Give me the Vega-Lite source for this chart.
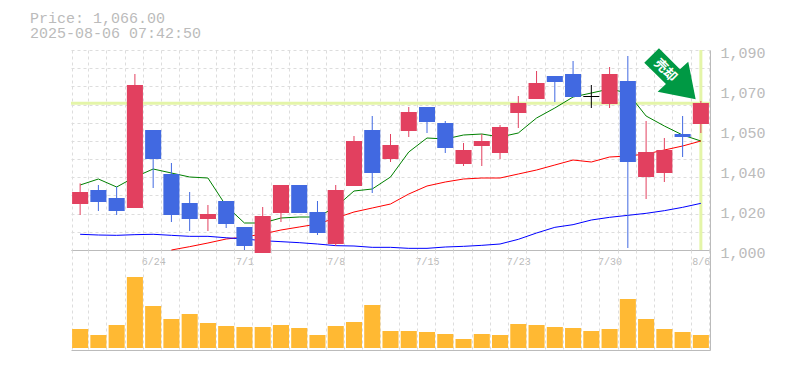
{"$schema":"https://vega.github.io/schema/vega-lite/v6.json","background":"white","padding":{"left":30,"top":11,"right":0,"bottom":10},"spacing":0,"bounds":"flush","datasets":{"candles":[
{"date":"6/18","open":1020.7,"close":1026.1,"high":1030,"low":1015.75,"dir":"up","ma5":1029.25,"ma25":null,"ma75":1007.07,"volume":19},
{"date":"6/19","open":1027,"close":1021.6,"high":1029.25,"low":1017.55,"dir":"down","ma5":1031.95,"ma25":null,"ma75":1006.75,"volume":13},
{"date":"6/20","open":1023.4,"close":1017.55,"high":1028.5,"low":1015.75,"dir":"down","ma5":1028.35,"ma25":null,"ma75":1006.6,"volume":23},
{"date":"6/23","open":1018.9,"close":1074.25,"high":1079.2,"low":1018.9,"dir":"up","ma5":1032.85,"ma25":null,"ma75":1006.9,"volume":71},
{"date":"6/24","open":1054,"close":1040.95,"high":1054,"low":1027.9,"dir":"down","ma5":1036.45,"ma25":null,"ma75":1007.07,"volume":42},
{"date":"6/25","open":1034.2,"close":1015.75,"high":1039.15,"low":1012.6,"dir":"down","ma5":1034.65,"ma25":1000,"ma75":1006.6,"volume":29},
{"date":"6/26","open":1021.15,"close":1013.95,"high":1026.1,"low":1008.55,"dir":"down","ma5":1032.85,"ma25":1001.5,"ma75":1006.15,"volume":34},
{"date":"6/27","open":1013.95,"close":1016.2,"high":1020.25,"low":1008.55,"dir":"up","ma5":1032.4,"ma25":1003.15,"ma75":1006.15,"volume":25},
{"date":"6/30","open":1022.05,"close":1011.7,"high":1022.05,"low":1009.9,"dir":"down","ma5":1019.8,"ma25":1004.95,"ma75":1005.5,"volume":22},
{"date":"7/1","open":1010.35,"close":1001.8,"high":1010.35,"low":1000,"dir":"down","ma5":1012.15,"ma25":1005.85,"ma75":1004.95,"volume":21},
{"date":"7/2","open":998.65,"close":1015.3,"high":1019.35,"low":998.65,"dir":"up","ma5":1012.15,"ma25":1007.2,"ma75":1004.2,"volume":21},
{"date":"7/3","open":1016.65,"close":1029.25,"high":1029.25,"low":1012.6,"dir":"up","ma5":1014.4,"ma25":1009,"ma75":1003.75,"volume":23},
{"date":"7/4","open":1029.25,"close":1016.65,"high":1029.25,"low":1016.65,"dir":"down","ma5":1014.85,"ma25":1010.35,"ma75":1003.3,"volume":20},
{"date":"7/7","open":1017.1,"close":1007.65,"high":1022.05,"low":1006.75,"dir":"down","ma5":1014.85,"ma25":1011.7,"ma75":1002.7,"volume":13},
{"date":"7/8","open":1002.7,"close":1027,"high":1029.25,"low":1001.8,"dir":"up","ma5":1019.35,"ma25":1014.4,"ma75":1001.95,"volume":22},
{"date":"7/9","open":1028.8,"close":1049.05,"high":1051.3,"low":1028.8,"dir":"up","ma5":1026.55,"ma25":1017.1,"ma75":1001.8,"volume":26},
{"date":"7/10","open":1054,"close":1034.65,"high":1060.3,"low":1025.65,"dir":"down","ma5":1027.45,"ma25":1018.9,"ma75":1001.2,"volume":43},
{"date":"7/11","open":1040.95,"close":1047.25,"high":1052.2,"low":1039.6,"dir":"up","ma5":1032.85,"ma25":1020.7,"ma75":1001.2,"volume":17},
{"date":"7/14","open":1053.55,"close":1062.1,"high":1064.35,"low":1050.85,"dir":"up","ma5":1044.1,"ma25":1025.2,"ma75":1000.75,"volume":17},
{"date":"7/15","open":1064.35,"close":1057.6,"high":1064.35,"low":1052.65,"dir":"down","ma5":1050.4,"ma25":1028.8,"ma75":1000.75,"volume":16},
{"date":"7/16","open":1057.15,"close":1045.9,"high":1058.05,"low":1043.65,"dir":"down","ma5":1049.95,"ma25":1030.6,"ma75":1001.35,"volume":14},
{"date":"7/17","open":1038.7,"close":1045,"high":1048.15,"low":1037.8,"dir":"up","ma5":1051.75,"ma25":1031.95,"ma75":1001.65,"volume":9},
{"date":"7/18","open":1046.8,"close":1049.05,"high":1052.2,"low":1037.8,"dir":"up","ma5":1052.2,"ma25":1032.4,"ma75":1002.1,"volume":14},
{"date":"7/22","open":1043.65,"close":1055.35,"high":1056.25,"low":1040.95,"dir":"up","ma5":1050.85,"ma25":1032.4,"ma75":1002.7,"volume":13},
{"date":"7/23","open":1061.65,"close":1066.15,"high":1069.3,"low":1054.9,"dir":"up","ma5":1052.65,"ma25":1034.2,"ma75":1004.8,"volume":24},
{"date":"7/24","open":1067.95,"close":1075.15,"high":1080.55,"low":1067.95,"dir":"up","ma5":1059.4,"ma25":1036,"ma75":1007.65,"volume":23},
{"date":"7/25","open":1078.3,"close":1075.6,"high":1078.3,"low":1066.6,"dir":"down","ma5":1063.9,"ma25":1038.25,"ma75":1010.2,"volume":21},
{"date":"7/28","open":1079.2,"close":1068.85,"high":1085.05,"low":1068.85,"dir":"down","ma5":1068.85,"ma25":1040.5,"ma75":1011.4,"volume":20},
{"date":"7/29","open":1069.3,"close":1068.85,"high":1074.25,"low":1063.9,"dir":"flat","ma5":1070.65,"ma25":1039.6,"ma75":1013.5,"volume":17},
{"date":"7/30","open":1065.7,"close":1079.2,"high":1082.35,"low":1063.9,"dir":"up","ma5":1072.45,"ma25":1041.85,"ma75":1014.7,"volume":19},
{"date":"7/31","open":1076.05,"close":1039.6,"high":1087.3,"low":1000.9,"dir":"down","ma5":1070.65,"ma25":1042.3,"ma75":1015.6,"volume":49},
{"date":"8/1","open":1032.85,"close":1044.1,"high":1058.05,"low":1022.95,"dir":"up","ma5":1060.3,"ma25":1043.2,"ma75":1016.5,"volume":29},
{"date":"8/4","open":1034.65,"close":1045,"high":1050.4,"low":1030.6,"dir":"up","ma5":1055.8,"ma25":1045,"ma75":1017.7,"volume":19},
{"date":"8/5","open":1052.2,"close":1050.85,"high":1060.3,"low":1041.85,"dir":"down","ma5":1051.75,"ma25":1046.8,"ma75":1019.2,"volume":16},
{"date":"8/6","open":1056.7,"close":1066.15,"high":1067.05,"low":1052.65,"dir":"up","ma5":1049.05,"ma25":1049.05,"ma75":1021,"volume":13}
]},
"config":{"view":{"stroke":null},"axis":{"gridColor":"#dddddd","gridDash":[3,3],"gridWidth":1,"domainColor":"#bbbbbb","ticks":false,"title":null,"labelFont":"Liberation Mono","labelColor":"#bbbbbb"}},
"vconcat":[
{"width":639,"height":200,
"title":{"text":["Price: 1,066.00","2025-08-06 07:42:50"],"anchor":"start","frame":"group","dx":-41,"offset":4,"font":"Liberation Mono","fontSize":15,"fontWeight":"normal","color":"#bbbbbb","lineHeight":15},
"data":{"name":"candles"},
"encoding":{"x":{"field":"date","type":"nominal","sort":null,"scale":{"domain":["6/18","6/19","6/20","6/23","6/24","6/25","6/26","6/27","6/30","7/1","7/2","7/3","7/4","7/7","7/8","7/9","7/10","7/11","7/14","7/15","7/16","7/17","7/18","7/22","7/23","7/24","7/25","7/28","7/29","7/30","7/31","8/1","8/4","8/5","8/6"],"paddingInner":0.12,"paddingOuter":0.06},
"axis":{"tickBand":"extent","grid":true,"labelAngle":0,"labelFontSize":10,"labelPadding":6,"labelOverlap":false,"labelExpr":"indexof(['6/24','7/1','7/8','7/15','7/23','7/30','8/6'],datum.value)>=0?datum.value:''","domain":true}}},
"layer":[
{"mark":{"type":"rule","color":"#e4f5a8","strokeWidth":3},"data":{"values":[{"price":1066}]},"encoding":{"x":null,"y":{"field":"price","type":"quantitative","scale":{"domain":[1000,1090],"zero":false,"nice":false},"axis":{"orient":"right","values":[1000,1008.18,1016.36,1024.55,1032.73,1040.91,1049.09,1057.27,1065.45,1073.64,1081.82,1090],"grid":true,"labels":false,"domain":false}}}},
{"mark":{"type":"rule","color":"#e4f5a8","strokeWidth":3},"data":{"values":[{"date":"8/6"}]},"encoding":{}},
{"mark":{"type":"line","color":"#008000","strokeWidth":1},"encoding":{"y":{"field":"ma5","type":"quantitative","axis":null}}},
{"mark":{"type":"line","color":"#ff0000","strokeWidth":1},"encoding":{"y":{"field":"ma25","type":"quantitative","axis":null}}},
{"mark":{"type":"line","color":"#0000ff","strokeWidth":1},"encoding":{"y":{"field":"ma75","type":"quantitative","axis":null}}},
{"mark":{"type":"rule","strokeWidth":1},"encoding":{"y":{"field":"low","type":"quantitative","axis":{"orient":"right","values":[1000,1018,1036,1054,1072,1090],"grid":false,"labelFontSize":15,"labelPadding":10,"labelOffset":2,"labelExpr":"format(round(datum.value/10)*10,',')","domain":true}},"y2":{"field":"high"},"color":{"field":"dir","type":"nominal","scale":{"domain":["up","down","flat"],"range":["#e2405f","#4169e1","#000000"]},"legend":null}}},
{"mark":{"type":"bar"},"encoding":{"y":{"field":"open","type":"quantitative","axis":null},"y2":{"field":"close"},"color":{"field":"dir","type":"nominal","legend":null}}},
{"mark":{"type":"point","filled":true,"opacity":1,"size":10000,"color":"#009944","strokeWidth":0,"shape":"M-0.108,-0.514L0.312,-0.094L0.478,-0.246L0.626,0.506L-0.134,0.354L0.032,0.2L-0.402,-0.226Z"},"data":{"values":[{"date":"8/4","y":1079.2}]},"encoding":{"y":{"field":"y","type":"quantitative","axis":null}}},
{"mark":{"type":"text","color":"white","font":"Noto Sans CJK JP","fontWeight":"bold","fontSize":13,"angle":45,"dx":1.5},"data":{"values":[{"date":"8/4","y":1081.3,"label":"売却"}]},"encoding":{"y":{"field":"y","type":"quantitative","axis":null},"text":{"field":"label"}}}
],
"resolve":{"axis":{"y":"independent"},"scale":{"y":"shared"}}},
{"width":639,"height":100,
"data":{"name":"candles"},
"mark":{"type":"bar","color":"#ffb933"},
"encoding":{"x":{"field":"date","type":"nominal","sort":null,"scale":{"paddingInner":0.12,"paddingOuter":0.06},"axis":{"tickBand":"extent","grid":true,"labels":false,"domain":true}},
"y":{"field":"volume","type":"quantitative","stack":null,"scale":{"domain":[-2,98],"nice":false,"zero":false},"axis":{"orient":"right","grid":false,"labels":false,"domain":true,"values":[]}}}}
]}
